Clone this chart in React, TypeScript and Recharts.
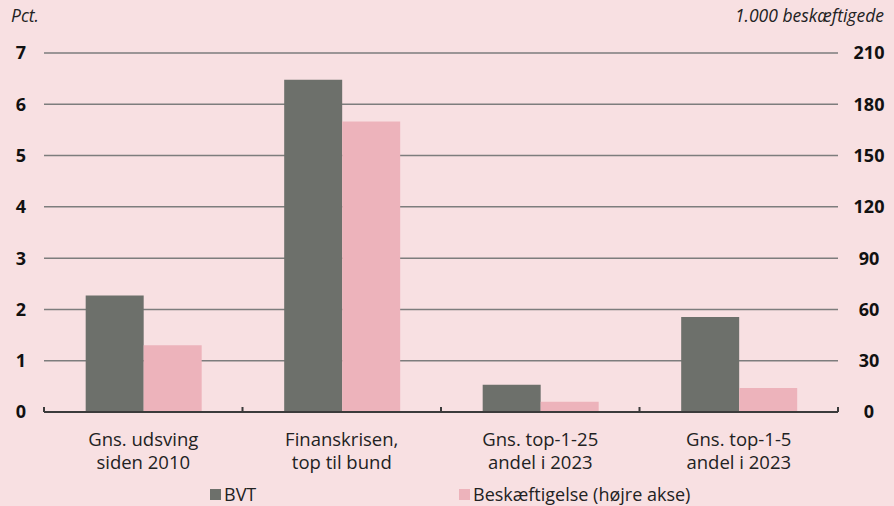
import { Bar, BarChart, CartesianGrid, XAxis, YAxis } from "recharts";

const categories = [
  "Gns. udsving\nsiden 2010",
  "Finanskrisen,\ntop til bund",
  "Gns. top-1-25\nandel i 2023",
  "Gns. top-1-5\nandel i 2023",
];
const bvt = [2.27, 6.48, 0.53, 1.85];
const employment = [39, 170, 6, 14];
const leftTicks = [0, 1, 2, 3, 4, 5, 6, 7];
const rightTicks = [0, 30, 60, 90, 120, 150, 180, 210];
const seriesNames = ["BVT", "Beskæftigelse (højre akse)"];

const BG = "#f8e0e2";
const DARK = "#6d706b";
const PINK = "#edb3bb";
const AXIS = "#3b3b3b";
const FONT = "'Open Sans', 'Noto Sans', sans-serif";

const data = categories.map((name, i) => ({
  name,
  bvt: bvt[i],
  employment: employment[i],
}));

// category label plus the small upward tick marks at the band boundaries
function CategoryTick(props: any) {
  const { x, y, payload, width, visibleTicksCount, index } = props;
  const lines = String(payload.value).split("\n");
  const half = width / visibleTicksCount / 2;
  return (
    <g>
      <line x1={x - half} x2={x - half} y1={y} y2={y - 5} stroke={AXIS} strokeWidth={2} />
      {index === visibleTicksCount - 1 && (
        <line x1={x + half} x2={x + half} y1={y} y2={y - 5} stroke={AXIS} strokeWidth={2} />
      )}
      <text x={x} y={y} textAnchor="middle" fill="#222" fontSize={18.5} fontFamily={FONT}>
        {lines.map((l, i) => (
          <tspan key={i} x={x} dy={i === 0 ? 34 : 23}>
            {l}
          </tspan>
        ))}
      </text>
    </g>
  );
}

export default function App() {
  return (
    <div
      style={{
        position: "fixed",
        left: 0,
        top: 0,
        width: 894,
        height: 506,
        background: BG,
        fontFamily: FONT,
        overflow: "hidden",
      }}
    >
      <div style={{ position: "absolute", left: 11, top: 3, fontSize: 17.5, fontStyle: "italic", color: "#222" }}>
        Pct.
      </div>
      <div style={{ position: "absolute", right: 10, top: 3, fontSize: 17.5, fontStyle: "italic", color: "#222" }}>
        1.000 beskæftigede
      </div>
      <BarChart
        width={894}
        height={506}
        data={data}
        margin={{ top: 53, right: 0, left: 0, bottom: 34 }}
        barCategoryGap="21%"
        barGap={0}
      >
        <CartesianGrid yAxisId="left" vertical={false} stroke="#7d7d7d" strokeWidth={1.5} />
        <XAxis
          dataKey="name"
          height={60}
          axisLine={{ stroke: AXIS, strokeWidth: 2 }}
          tickLine={false}
          tickSize={0}
          tickMargin={0}
          interval={0}
          tick={<CategoryTick />}
        />
        <YAxis
          yAxisId="left"
          orientation="left"
          width={44}
          domain={[0, 7]}
          ticks={leftTicks}
          axisLine={false}
          tickLine={false}
          tick={{ fontSize: 18, fontWeight: 700, fill: "#111", fontFamily: FONT, textAnchor: "middle", dx: -15 }}
        />
        <YAxis
          yAxisId="right"
          orientation="right"
          width={56}
          domain={[0, 210]}
          ticks={rightTicks}
          axisLine={false}
          tickLine={false}
          tick={{ fontSize: 18, fontWeight: 700, fill: "#111", fontFamily: FONT, textAnchor: "middle", dx: 23 }}
        />
        <Bar yAxisId="left" dataKey="bvt" name={seriesNames[0]} fill={DARK} isAnimationActive={false} />
        <Bar yAxisId="right" dataKey="employment" name={seriesNames[1]} fill={PINK} isAnimationActive={false} />
      </BarChart>
      <div style={{ position: "absolute", left: 210, top: 482, fontSize: 18, color: "#222", display: "flex", alignItems: "center" }}>
        <span style={{ display: "inline-block", width: 11, height: 11, background: DARK, marginRight: 3 }} />
        {seriesNames[0]}
      </div>
      <div style={{ position: "absolute", left: 459, top: 482, fontSize: 18, color: "#222", display: "flex", alignItems: "center" }}>
        <span style={{ display: "inline-block", width: 11, height: 11, background: PINK, marginRight: 3 }} />
        {seriesNames[1]}
      </div>
    </div>
  );
}
